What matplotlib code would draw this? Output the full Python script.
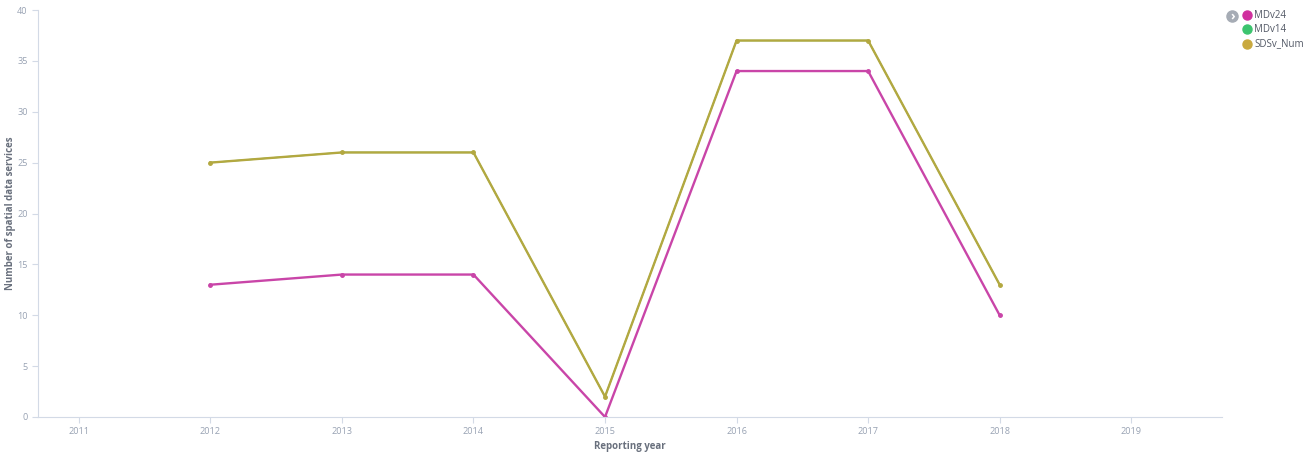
import matplotlib.pyplot as plt
from matplotlib.lines import Line2D

plt.rcParams['font.family'] = ['Open Sans', 'DejaVu Sans']

# Data
years = [2012, 2013, 2014, 2015, 2016, 2017, 2018]
mdv24 = [13, 14, 14, 0, 34, 34, 10]
mdv14 = [25, 26, 26, 2, 37, 37, 13]
sdsv_num = [25, 26, 26, 2, 37, 37, 13]
xticks = [2011, 2012, 2013, 2014, 2015, 2016, 2017, 2018, 2019]
yticks = [0, 5, 10, 15, 20, 25, 30, 35, 40]

series = [('MDv24', mdv24, '#C945A8', '#D0309E'),
          ('MDv14', mdv14, '#3CC46E', '#3CC46E'),
          ('SDSv_Num', sdsv_num, '#B3A840', '#C9A93F')]

fig = plt.figure(figsize=(13.1, 4.57), dpi=100)
ax = fig.add_axes([38 / 1310, 1 - 417 / 457, (1222 - 38) / 1310, (417 - 10) / 457])

# MDv14 sits underneath SDSv_Num (same values), draw it first
ax.plot(years, mdv14, color=series[1][2], linewidth=1.0)
for name, vals, col, _ in [series[0], series[2]]:
    ax.plot(years, vals, color=col, linewidth=1.7, marker='o', markersize=2.5)

ax.set_xlim(2010.69, 2019.69)
ax.set_ylim(0, 40)
ax.set_xticks(xticks)
ax.set_yticks(yticks)
ax.tick_params(colors='#d3dae6', labelcolor='#98a2b3', labelsize=6.6, length=4, width=0.8)

for s in ['top', 'right']:
    ax.spines[s].set_visible(False)
for s in ['left', 'bottom']:
    ax.spines[s].set_color('#d3dae6')
    ax.spines[s].set_linewidth(0.8)

ax.set_xlabel('Reporting year', fontsize=7, fontweight='bold', color='#69707d')
ax.set_ylabel('Number of spatial data services', fontsize=7, fontweight='bold', color='#69707d')
ax.xaxis.set_label_coords(0.5, -0.06)
ax.yaxis.set_label_coords(-0.019, 0.5)

# legend at top right
fig.add_artist(Line2D([1232 / 1310], [1 - 16 / 457], marker='o', markersize=8,
                      color='#a6acb5', linestyle='none', transform=fig.transFigure))
fig.text(1232.5 / 1310, 1 - 16.5 / 457, '›', color='white', fontsize=9, fontweight='bold',
         ha='center', va='center')
rows = [15, 29, 44]
for (name, _, _, lcol), yy in zip(series, rows):
    fig.add_artist(Line2D([1247 / 1310], [1 - yy / 457], marker='o', markersize=6.5,
                          color=lcol, linestyle='none', transform=fig.transFigure))
    fig.text(1254 / 1310, 1 - yy / 457, name, fontsize=7, color='#535966',
             ha='left', va='center')

fig.savefig('out.png', dpi=100)
